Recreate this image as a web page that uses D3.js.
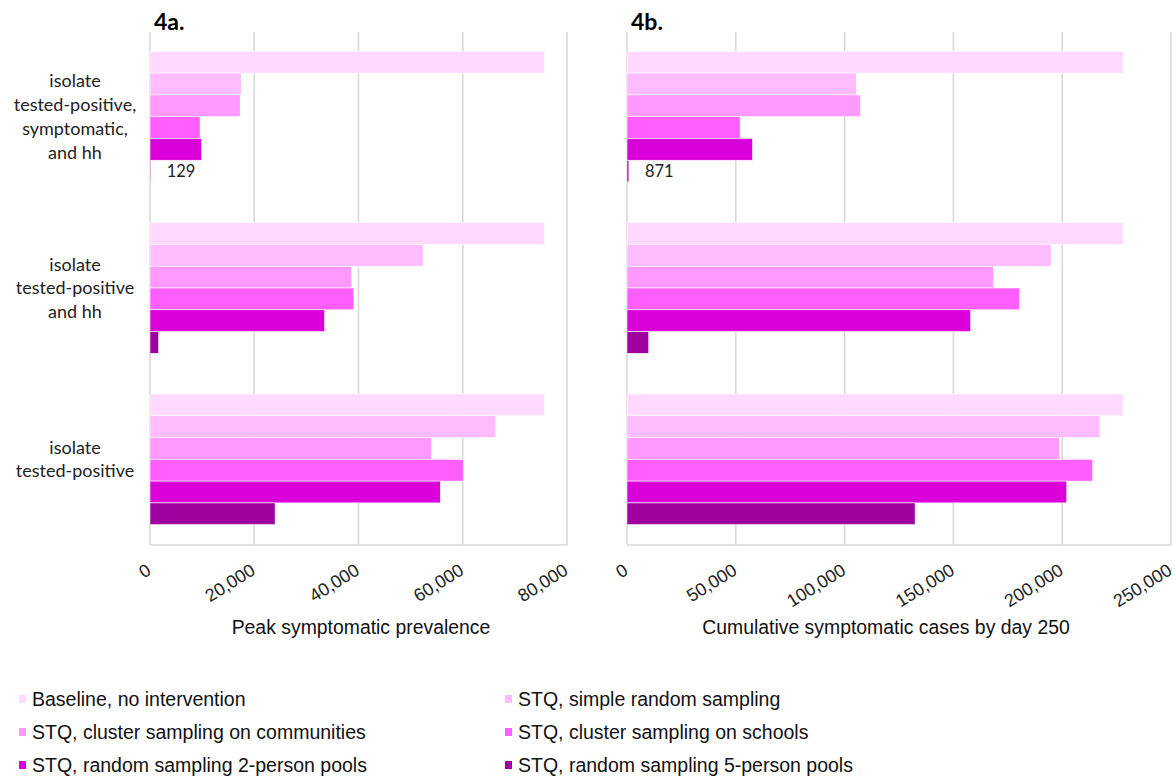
<!DOCTYPE html>
<html>
<head>
<meta charset="utf-8">
<script src="https://cdn.jsdelivr.net/npm/d3@7"></script>
<style>
  body { margin: 0; background: #fff; }
  svg { display: block; }
</style>
</head>
<body>
<div id="chart"></div>
<script>
// categories, top to bottom
var categories = ["sym", "pos_hh", "pos"];
var categoryLines = [
  ["isolate", "tested-positive,", "symptomatic,", "and hh"],
  ["isolate", "tested-positive", "and hh"],
  ["isolate", "tested-positive"]
];
var series = [
  "Baseline, no intervention",
  "STQ, simple random sampling",
  "STQ, cluster sampling on communities",
  "STQ, cluster sampling on schools",
  "STQ, random sampling 2-person pools",
  "STQ, random sampling 5-person pools"
];
var colors = ["#ffd9ff", "#ffbbff", "#ff99ff", "#ff5fff", "#d900d9", "#9e009e"];

// 4a. peak symptomatic prevalence, one array per category, in series order
var peakSym = [75700, 17500, 17300, 9600, 9900, 129];
var peakPosHh = [75700, 52400, 38700, 39100, 33500, 1650];
var peakPos = [75700, 66300, 54000, 60100, 55700, 24000];

// 4b. cumulative symptomatic cases by day 250
var cumSym = [228000, 105400, 107300, 52000, 57700, 871];
var cumPosHh = [228000, 194900, 168400, 180300, 157900, 10000];
var cumPos = [228000, 217300, 198700, 214000, 202100, 132400];

var ticksA = [0, 20000, 40000, 60000, 80000];
var ticksB = [0, 50000, 100000, 150000, 200000, 250000];

var width = 1175, height = 776;
var plotTop = 31, plotBottom = 545;
var gridColor = "#d9d9d9";

var svg = d3.select("#chart").append("svg")
  .attr("width", width)
  .attr("height", height);

var y = d3.scaleBand()
  .domain(categories)
  .range([plotTop, plotBottom])
  .paddingInner(0.237)
  .paddingOuter(0.1185);

var ySub = d3.scaleBand()
  .domain(series)
  .range([0, y.bandwidth()])
  .padding(0);

function drawPanel(opts) {
  var x = d3.scaleLinear().domain([0, opts.max]).range([opts.x0, opts.x1]);
  var g = svg.append("g");

  // gridlines
  g.selectAll(".grid")
    .data(opts.ticks)
    .enter().append("line")
    .attr("x1", function(d) { return x(d); })
    .attr("x2", function(d) { return x(d); })
    .attr("y1", plotTop + 1)
    .attr("y2", plotBottom)
    .attr("stroke", gridColor)
    .attr("stroke-width", 1.6);

  // bottom axis line
  g.append("line")
    .attr("x1", x(0)).attr("x2", x(opts.max))
    .attr("y1", plotBottom).attr("y2", plotBottom)
    .attr("stroke", gridColor)
    .attr("stroke-width", 1.6);

  // bars
  var rows = [];
  categories.forEach(function(c, ci) {
    opts.values[ci].forEach(function(v, si) {
      rows.push({ cat: c, series: series[si], si: si, value: v });
    });
  });

  g.selectAll(".bar")
    .data(rows)
    .enter().append("rect")
    .attr("x", x(0))
    .attr("y", function(d) { return y(d.cat) + ySub(d.series); })
    .attr("width", function(d) { return Math.max(0, x(d.value) - x(0)); })
    .attr("height", ySub.bandwidth())
    .attr("fill", function(d) { return colors[d.si]; })
    .attr("stroke", "#fff")
    .attr("stroke-width", 0.6);

  // data label for the tiny bar in the first category
  var small = rows.filter(function(d) { return d.cat === categories[0] && d.si === 5; })[0];
  g.append("text")
    .attr("x", x(small.value) + opts.labelOffset)
    .attr("y", y(small.cat) + ySub(small.series) + ySub.bandwidth() / 2)
    .attr("dy", "0.36em")
    .attr("font-family", "Lato, 'Open Sans', sans-serif")
    .attr("font-size", 16.5)
    .attr("fill", "#222")
    .text(d3.format(",")(small.value));

  // rotated tick labels
  g.selectAll(".tick")
    .data(opts.ticks)
    .enter().append("text")
    .attr("transform", function(d) { return "translate(" + (x(d) - 1) + ",568) rotate(-32)"; })
    .attr("text-anchor", "end")
    .attr("dy", "0.35em")
    .attr("font-family", "'Liberation Sans', Arial, sans-serif")
    .attr("font-size", 18)
    .attr("fill", "#222")
    .text(function(d) { return d3.format(",")(d); });

  // axis title
  g.append("text")
    .attr("x", opts.titleX)
    .attr("y", 634)
    .attr("text-anchor", "middle")
    .attr("font-family", "'Liberation Sans', Arial, sans-serif")
    .attr("font-size", 19.4)
    .attr("fill", "#111")
    .text(opts.axisTitle);

  // panel title
  g.append("text")
    .attr("x", opts.x0 + 4)
    .attr("y", 30)
    .attr("font-family", "Lato, 'Open Sans', sans-serif")
    .attr("font-weight", "bold")
    .attr("font-size", 23)
    .attr("fill", "#000")
    .text(opts.panelTitle);
}

drawPanel({
  x0: 150, x1: 567, max: 80000, ticks: ticksA,
  values: [peakSym, peakPosHh, peakPos],
  axisTitle: "Peak symptomatic prevalence", titleX: 361,
  panelTitle: "4a.", labelOffset: 16
});

drawPanel({
  x0: 627, x1: 1171, max: 250000, ticks: ticksB,
  values: [cumSym, cumPosHh, cumPos],
  axisTitle: "Cumulative symptomatic cases by day 250", titleX: 886,
  panelTitle: "4b.", labelOffset: 16
});

// category labels
var lineH = 23.7;
categories.forEach(function(c, ci) {
  var lines = categoryLines[ci];
  var cy = y(c) + y.bandwidth() / 2;
  var t = svg.append("text")
    .attr("text-anchor", "middle")
    .attr("font-family", "Lato, 'Open Sans', sans-serif")
    .attr("font-size", 18)
    .attr("fill", "#222");
  lines.forEach(function(l, li) {
    t.append("tspan")
      .attr("x", 75)
      .attr("y", cy + (li - (lines.length - 1) / 2) * lineH)
      .attr("dy", "0.35em")
      .text(l);
  });
});

// legend
var legend = svg.append("g")
  .attr("font-family", "'Liberation Sans', Arial, sans-serif")
  .attr("font-size", 19.5)
  .attr("fill", "#111");

var legendCols = [19, 505];
var legendRows = [699, 732, 765];

var items = legend.selectAll(".item")
  .data(series)
  .enter().append("g")
  .attr("transform", function(d, i) {
    return "translate(" + legendCols[i % 2] + "," + legendRows[Math.floor(i / 2)] + ")";
  });

items.append("rect")
  .attr("x", 0).attr("y", -4)
  .attr("width", 7).attr("height", 8)
  .attr("fill", function(d, i) { return colors[i]; });

items.append("text")
  .attr("x", 13)
  .attr("dy", "0.35em")
  .text(function(d) { return d; });
</script>
</body>
</html>
